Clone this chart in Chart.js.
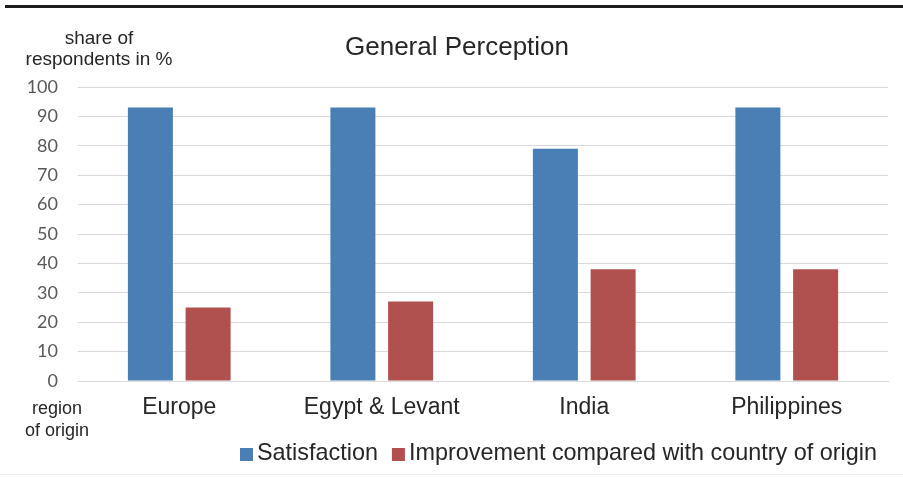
<!DOCTYPE html>
<html>
<head>
<meta charset="utf-8">
<script src="https://cdn.jsdelivr.net/npm/chart.js@4/dist/chart.umd.min.js"></script>
<style>
  html, body { margin: 0; padding: 0; background: #ffffff; }
  #wrap { width: 903px; height: 478px; position: relative; }
</style>
</head>
<body>
<div id="wrap"><canvas id="c" width="903" height="478"></canvas></div>
<script>
const chartTitle = "General Perception";
const yAxisLabel = ["share of", "respondents in %"];
const xAxisLabel = ["region", "of origin"];
const categories = ["Europe", "Egypt & Levant", "India", "Philippines"];
const seriesNames = ["Satisfaction", "Improvement compared with country of origin"];
const satisfaction = [93, 93, 79, 93];
const improvement = [25, 27, 38, 38];
const yTicks = [0, 10, 20, 30, 40, 50, 60, 70, 80, 90, 100];

const BLUE = "#4a7fb6";
const RED = "#b05150";

const overlay = {
  id: "overlay",
  beforeDraw(chart) {
    const ctx = chart.ctx;
    ctx.save();
    ctx.fillStyle = "#ffffff";
    ctx.fillRect(0, 0, chart.width, chart.height);
    ctx.restore();
  },
  afterDraw(chart) {
    const ctx = chart.ctx;
    ctx.save();
    // top heavy rule
    ctx.fillStyle = "#1c1c1c";
    ctx.fillRect(5, 5, 898, 3);
    // bottom faint rule
    ctx.fillStyle = "#ececec";
    ctx.fillRect(0, 474, 903, 1);

    // title
    ctx.fillStyle = "#262626";
    ctx.font = "26px 'Liberation Sans', Arial, sans-serif";
    ctx.textAlign = "center";
    ctx.textBaseline = "middle";
    ctx.fillText(chartTitle, 457, 48);

    // y axis caption
    ctx.font = "19px 'Liberation Sans', Arial, sans-serif";
    ctx.fillText(yAxisLabel[0], 99, 39);
    ctx.fillText(yAxisLabel[1], 99, 60);

    // x axis caption
    ctx.font = "18px 'Liberation Sans', Arial, sans-serif";
    ctx.fillText(xAxisLabel[0], 57, 409);
    ctx.fillText(xAxisLabel[1], 57, 431);

    // legend
    ctx.font = "23.4px 'Liberation Sans', Arial, sans-serif";
    ctx.textAlign = "left";
    let x = 240;
    const y = 454;
    chart.data.datasets.forEach((ds, i) => {
      ctx.fillStyle = ds.backgroundColor;
      ctx.fillRect(x, y - 6, 13, 13);
      ctx.fillStyle = "#262626";
      ctx.fillText(ds.label, x + 17, y);
      x += 17 + ctx.measureText(ds.label).width + 14;
    });
    ctx.restore();
  }
};

new Chart(document.getElementById("c"), {
  type: "bar",
  data: {
    labels: categories,
    datasets: [
      { label: seriesNames[0], data: satisfaction, backgroundColor: BLUE, borderWidth: 0,
        categoryPercentage: 0.57, barPercentage: 0.78 },
      { label: seriesNames[1], data: improvement, backgroundColor: RED, borderWidth: 0,
        categoryPercentage: 0.57, barPercentage: 0.78 }
    ]
  },
  options: {
    responsive: false,
    animation: false,
    devicePixelRatio: 1,
    layout: { padding: { left: 0, right: 15, top: 87, bottom: 0 } },
    plugins: { legend: { display: false }, title: { display: false }, tooltip: { enabled: false } },
    scales: {
      x: {
        grid: { display: false, drawTicks: false },
        border: { display: true, color: "#d9d9d9", width: 1 },
        ticks: { color: "#262626", padding: 13, font: { family: "'Liberation Sans', Arial, sans-serif", size: 23 } },
        afterFit(s) { s.height = 97; }
      },
      y: {
        min: 0, max: 100,
        afterBuildTicks(s) { s.ticks = yTicks.map(v => ({ value: v })); },
        grid: { color: "#d9d9d9", lineWidth: 1, drawTicks: false },
        border: { display: false },
        ticks: { color: "#595959", padding: 20, font: { family: "Lato, 'Open Sans', sans-serif", size: 18 } },
        afterFit(s) { s.width = 78; }
      }
    }
  },
  plugins: [overlay]
});
</script>
</body>
</html>
